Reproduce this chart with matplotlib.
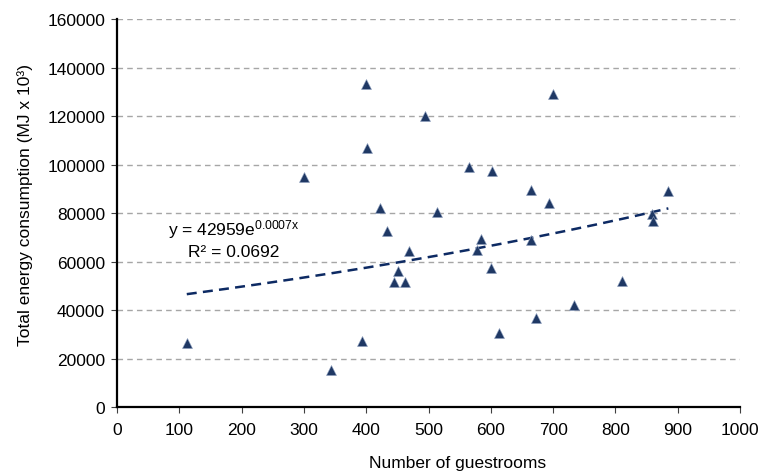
import matplotlib
matplotlib.use('Agg')
import matplotlib.pyplot as plt
import numpy as np

# number of guestrooms vs total energy consumption (MJ x 10^3)
rooms = [112, 300, 343, 393, 399, 401, 422, 434, 444, 451,
         463, 468, 495, 513, 565, 578, 585, 600, 602, 613,
         665, 665, 673, 693, 700, 733, 810, 859, 861, 885]
energy = [26500, 94800, 15500, 27500, 133200, 107000, 82000, 72500, 51500, 56000,
          51800, 64500, 120000, 80500, 99000, 65000, 69500, 57500, 97500, 30800,
          89500, 69000, 36800, 84000, 129000, 42000, 52200, 79500, 76800, 89000]

# exponential trendline (label shows rounded exponent)
fit_a = 42959
fit_b = 0.00073
fit_r2 = 0.0692

matplotlib.rcParams['font.family'] = ['Liberation Sans', 'DejaVu Sans']
matplotlib.rcParams['mathtext.default'] = 'regular'
matplotlib.rcParams['font.size'] = 12.5

fig = plt.figure(figsize=(7.66, 4.77), dpi=100)
ax1 = fig.add_axes([117/766, 1-408.3/477, (740-117)/766, (408.3-20)/477])

ax1.set_xlim(0, 1000)
ax1.set_ylim(0, 160000)
ax1.set_xticks(np.arange(0, 1001, 100))
ax1.set_yticks(np.arange(0, 160001, 20000))
ax1.grid(which='major', axis='y', linestyle=(0, (4, 3)), color='#a6a6a6', linewidth=1.0)
ax1.set_axisbelow(True)

ax1.spines['right'].set_visible(False)
ax1.spines['top'].set_visible(False)
ax1.spines['left'].set_linewidth(1.6)
ax1.spines['bottom'].set_linewidth(1.6)
ax1.tick_params(direction='out', length=4.5, width=0.8, color='#404040', pad=4)
ax1.tick_params(axis='x', pad=6)

xs = np.linspace(min(rooms), max(rooms), 200)
ax1.plot(xs, fit_a*np.exp(fit_b*xs), linestyle=(0, (4, 2.5)), color='#0d2a63', linewidth=1.8)

ax1.plot(rooms, energy, linestyle='none', marker='^', markersize=6.5,
         color='#1f3864', markeredgecolor='#8fa0bf', markeredgewidth=0.4)

ax1.text(188, 73500, 'y = %de$^{%.4fx}$' % (fit_a, fit_b), ha='center', va='center')
ax1.text(188, 64400, 'R² = %.4f' % fit_r2, ha='center', va='center')

ax1.set_xlabel('Number of guestrooms')
ax1.set_ylabel('Total energy consumption (MJ x 10³)')
ax1.xaxis.set_label_coords(0.546, -0.122)
ax1.yaxis.set_label_coords(-0.135, 0.524)

plt.savefig('out.png', dpi=100)
